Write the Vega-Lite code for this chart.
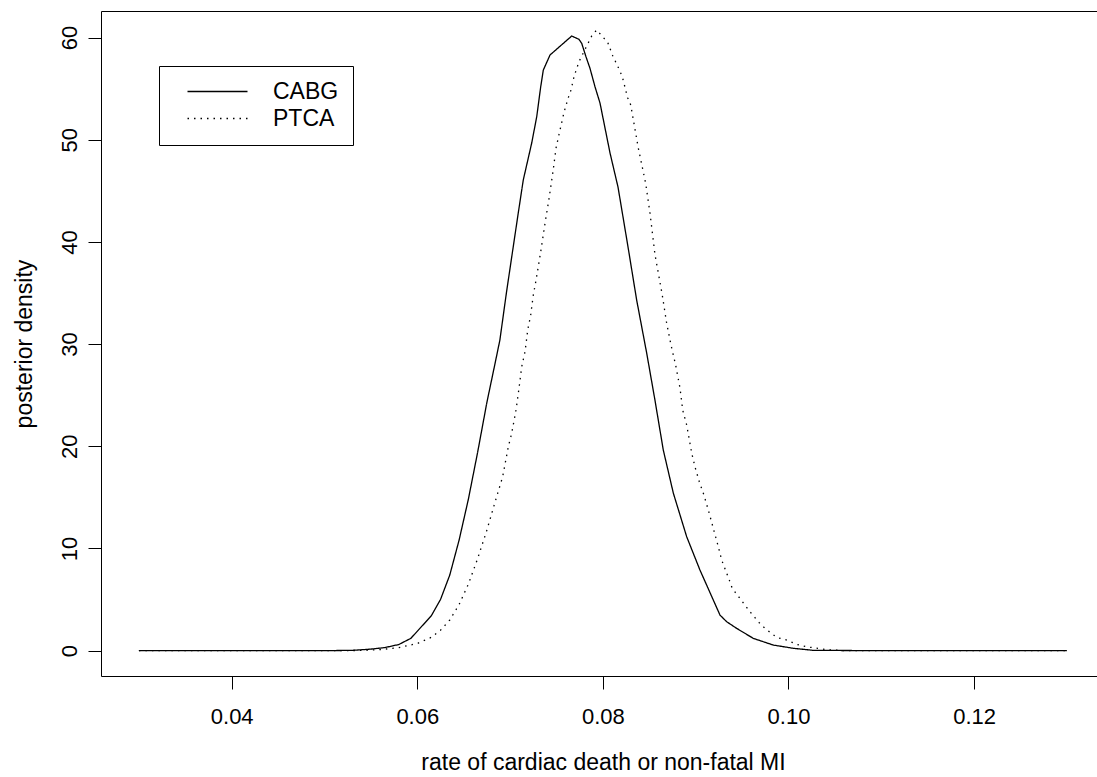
{
  "$schema": "https://vega.github.io/schema/vega-lite/v6.json",
  "autosize": "none",
  "padding": {"left": 101, "top": 11, "right": 0, "bottom": 101},
  "width": 996,
  "height": 665,
  "background": "white",
  "data": {"values": [
    {"x": 0.030, "d": 0, "s": "CABG"},
    {"x": 0.040, "d": 0, "s": "CABG"},
    {"x": 0.050, "d": 0, "s": "CABG"},
    {"x": 0.0530, "d": 0.03, "s": "CABG"},
    {"x": 0.0550, "d": 0.15, "s": "CABG"},
    {"x": 0.0565, "d": 0.3, "s": "CABG"},
    {"x": 0.0580, "d": 0.6, "s": "CABG"},
    {"x": 0.0593, "d": 1.2, "s": "CABG"},
    {"x": 0.0604, "d": 2.3, "s": "CABG"},
    {"x": 0.0615, "d": 3.4, "s": "CABG"},
    {"x": 0.0625, "d": 5.0, "s": "CABG"},
    {"x": 0.0635, "d": 7.4, "s": "CABG"},
    {"x": 0.0645, "d": 10.8, "s": "CABG"},
    {"x": 0.0655, "d": 14.8, "s": "CABG"},
    {"x": 0.0665, "d": 19.4, "s": "CABG"},
    {"x": 0.0675, "d": 24.3, "s": "CABG"},
    {"x": 0.0684, "d": 28.2, "s": "CABG"},
    {"x": 0.0689, "d": 30.4, "s": "CABG"},
    {"x": 0.0696, "d": 35.0, "s": "CABG"},
    {"x": 0.07034, "d": 39.53, "s": "CABG"},
    {"x": 0.07088, "d": 42.83, "s": "CABG"},
    {"x": 0.07142, "d": 46.06, "s": "CABG"},
    {"x": 0.07233, "d": 49.68, "s": "CABG"},
    {"x": 0.07287, "d": 52.25, "s": "CABG"},
    {"x": 0.07330, "d": 55.19, "s": "CABG"},
    {"x": 0.07358, "d": 56.82, "s": "CABG"},
    {"x": 0.07430, "d": 58.29, "s": "CABG"},
    {"x": 0.07573, "d": 59.43, "s": "CABG"},
    {"x": 0.07664, "d": 60.15, "s": "CABG"},
    {"x": 0.07742, "d": 59.83, "s": "CABG"},
    {"x": 0.07772, "d": 59.43, "s": "CABG"},
    {"x": 0.07818, "d": 58.12, "s": "CABG"},
    {"x": 0.07861, "d": 56.99, "s": "CABG"},
    {"x": 0.07915, "d": 55.19, "s": "CABG"},
    {"x": 0.07969, "d": 53.59, "s": "CABG"},
    {"x": 0.08077, "d": 48.70, "s": "CABG"},
    {"x": 0.08163, "d": 45.37, "s": "CABG"},
    {"x": 0.08271, "d": 39.50, "s": "CABG"},
    {"x": 0.08364, "d": 34.31, "s": "CABG"},
    {"x": 0.08472, "d": 29.12, "s": "CABG"},
    {"x": 0.08561, "d": 24.52, "s": "CABG"},
    {"x": 0.08651, "d": 19.63, "s": "CABG"},
    {"x": 0.08759, "d": 15.42, "s": "CABG"},
    {"x": 0.08903, "d": 11.15, "s": "CABG"},
    {"x": 0.09046, "d": 7.89, "s": "CABG"},
    {"x": 0.09190, "d": 4.95, "s": "CABG"},
    {"x": 0.09262, "d": 3.48, "s": "CABG"},
    {"x": 0.09334, "d": 2.83, "s": "CABG"},
    {"x": 0.09442, "d": 2.18, "s": "CABG"},
    {"x": 0.09621, "d": 1.20, "s": "CABG"},
    {"x": 0.09836, "d": 0.55, "s": "CABG"},
    {"x": 0.10052, "d": 0.23, "s": "CABG"},
    {"x": 0.10267, "d": 0.03, "s": "CABG"},
    {"x": 0.110, "d": 0, "s": "CABG"},
    {"x": 0.120, "d": 0, "s": "CABG"},
    {"x": 0.130, "d": 0, "s": "CABG"},
    {"x": 0.030, "d": 0, "s": "PTCA"},
    {"x": 0.050, "d": 0, "s": "PTCA"},
    {"x": 0.0540, "d": 0.02, "s": "PTCA"},
    {"x": 0.0560, "d": 0.1, "s": "PTCA"},
    {"x": 0.0580, "d": 0.3, "s": "PTCA"},
    {"x": 0.0600, "d": 0.7, "s": "PTCA"},
    {"x": 0.0615, "d": 1.3, "s": "PTCA"},
    {"x": 0.0625, "d": 2.0, "s": "PTCA"},
    {"x": 0.0635, "d": 3.0, "s": "PTCA"},
    {"x": 0.0645, "d": 4.5, "s": "PTCA"},
    {"x": 0.0655, "d": 6.5, "s": "PTCA"},
    {"x": 0.0665, "d": 9.0, "s": "PTCA"},
    {"x": 0.0675, "d": 11.8, "s": "PTCA"},
    {"x": 0.0684, "d": 14.6, "s": "PTCA"},
    {"x": 0.06920, "d": 17.02, "s": "PTCA"},
    {"x": 0.06981, "d": 19.96, "s": "PTCA"},
    {"x": 0.07017, "d": 21.27, "s": "PTCA"},
    {"x": 0.07064, "d": 23.55, "s": "PTCA"},
    {"x": 0.07096, "d": 25.67, "s": "PTCA"},
    {"x": 0.07125, "d": 27.78, "s": "PTCA"},
    {"x": 0.07161, "d": 29.25, "s": "PTCA"},
    {"x": 0.07190, "d": 31.38, "s": "PTCA"},
    {"x": 0.07222, "d": 32.84, "s": "PTCA"},
    {"x": 0.07250, "d": 34.80, "s": "PTCA"},
    {"x": 0.07280, "d": 36.27, "s": "PTCA"},
    {"x": 0.07333, "d": 39.21, "s": "PTCA"},
    {"x": 0.07379, "d": 41.98, "s": "PTCA"},
    {"x": 0.07419, "d": 44.20, "s": "PTCA"},
    {"x": 0.07466, "d": 47.13, "s": "PTCA"},
    {"x": 0.07495, "d": 49.18, "s": "PTCA"},
    {"x": 0.07530, "d": 50.63, "s": "PTCA"},
    {"x": 0.07581, "d": 52.68, "s": "PTCA"},
    {"x": 0.07627, "d": 54.11, "s": "PTCA"},
    {"x": 0.07656, "d": 54.86, "s": "PTCA"},
    {"x": 0.07689, "d": 56.17, "s": "PTCA"},
    {"x": 0.07742, "d": 57.63, "s": "PTCA"},
    {"x": 0.07879, "d": 60.15, "s": "PTCA"},
    {"x": 0.07933, "d": 60.74, "s": "PTCA"},
    {"x": 0.08052, "d": 59.53, "s": "PTCA"},
    {"x": 0.08106, "d": 58.22, "s": "PTCA"},
    {"x": 0.08174, "d": 56.92, "s": "PTCA"},
    {"x": 0.08209, "d": 56.17, "s": "PTCA"},
    {"x": 0.08267, "d": 54.11, "s": "PTCA"},
    {"x": 0.08300, "d": 53.40, "s": "PTCA"},
    {"x": 0.08381, "d": 49.22, "s": "PTCA"},
    {"x": 0.08429, "d": 47.13, "s": "PTCA"},
    {"x": 0.08461, "d": 45.73, "s": "PTCA"},
    {"x": 0.08508, "d": 42.80, "s": "PTCA"},
    {"x": 0.08561, "d": 38.78, "s": "PTCA"},
    {"x": 0.08640, "d": 34.80, "s": "PTCA"},
    {"x": 0.08687, "d": 32.06, "s": "PTCA"},
    {"x": 0.08734, "d": 29.91, "s": "PTCA"},
    {"x": 0.08784, "d": 27.95, "s": "PTCA"},
    {"x": 0.08831, "d": 25.70, "s": "PTCA"},
    {"x": 0.08860, "d": 23.55, "s": "PTCA"},
    {"x": 0.08903, "d": 22.08, "s": "PTCA"},
    {"x": 0.08957, "d": 19.34, "s": "PTCA"},
    {"x": 0.08992, "d": 18.00, "s": "PTCA"},
    {"x": 0.09039, "d": 16.53, "s": "PTCA"},
    {"x": 0.09089, "d": 15.23, "s": "PTCA"},
    {"x": 0.09136, "d": 13.76, "s": "PTCA"},
    {"x": 0.09200, "d": 11.64, "s": "PTCA"},
    {"x": 0.09244, "d": 10.17, "s": "PTCA"},
    {"x": 0.09280, "d": 8.87, "s": "PTCA"},
    {"x": 0.09362, "d": 6.91, "s": "PTCA"},
    {"x": 0.09394, "d": 6.10, "s": "PTCA"},
    {"x": 0.09585, "d": 3.81, "s": "PTCA"},
    {"x": 0.09685, "d": 2.73, "s": "PTCA"},
    {"x": 0.09747, "d": 2.18, "s": "PTCA"},
    {"x": 0.09873, "d": 1.30, "s": "PTCA"},
    {"x": 0.09981, "d": 1.04, "s": "PTCA"},
    {"x": 0.10088, "d": 0.62, "s": "PTCA"},
    {"x": 0.10196, "d": 0.38, "s": "PTCA"},
    {"x": 0.10412, "d": 0.1, "s": "PTCA"},
    {"x": 0.1060, "d": 0, "s": "PTCA"},
    {"x": 0.130, "d": 0, "s": "PTCA"}
  ]},
  "resolve": {"axis": {"x": "independent"}},
  "layer": [
    {
      "mark": {"type": "line", "color": "black", "strokeWidth": 1.3, "clip": true},
      "encoding": {
        "x": {"field": "x", "type": "quantitative",
          "scale": {"domain": [0.025916, 0.133246], "nice": false, "zero": false},
          "axis": {"orient": "bottom", "values": [0.04, 0.06, 0.08, 0.10, 0.12], "format": ".2f",
            "labelPadding": 17, "title": "rate of cardiac death or non-fatal MI",
            "titleX": 502, "titleY": 93, "titleAlign": "center", "titleBaseline": "alphabetic"}},
        "y": {"field": "d", "type": "quantitative",
          "scale": {"domain": [-2.48, 62.6], "nice": false, "zero": false},
          "axis": {"values": [0, 10, 20, 30, 40, 50, 60], "labelAngle": -90, "labelAlign": "center",
            "labelBaseline": "alphabetic", "labelPadding": 12,
            "title": "posterior density", "titleX": -70, "titleY": 332.5, "titleAngle": -90,
            "titleAlign": "center", "titleBaseline": "alphabetic"}},
        "strokeDash": {"field": "s", "type": "nominal",
          "scale": {"domain": ["CABG", "PTCA"], "range": [[1, 0], [1.5, 5]]},
          "legend": {"orient": "none", "legendX": 58, "legendY": 55, "title": null,
            "strokeColor": "black", "padding": 14,
            "symbolType": "M0.6,0H12.6", "symbolSize": 100,
            "symbolStrokeColor": "black", "symbolStrokeWidth": 1.3, "symbolFillColor": "transparent",
            "labelOffset": 77, "rowPadding": 3}},
        "detail": {"field": "s"}
      }
    },
    {
      "mark": {"type": "line", "opacity": 0},
      "encoding": {
        "x": {"field": "x", "type": "quantitative",
          "axis": {"orient": "top", "labels": false, "ticks": false, "title": null}},
        "y": {"field": "d", "type": "quantitative"},
        "detail": {"field": "s"}
      }
    }
  ],
  "config": {
    "view": {"stroke": null},
    "font": "Liberation Sans",
    "axis": {"domainColor": "black", "tickColor": "black", "labelColor": "black", "titleColor": "black",
      "labelFont": "Liberation Sans", "titleFont": "Liberation Sans", "labelFontSize": 22, "titleFontSize": 23,
      "titleFontWeight": "normal", "tickSize": 13, "grid": false, "domainWidth": 1, "tickWidth": 1},
    "legend": {"labelFont": "Liberation Sans", "labelFontSize": 23, "labelColor": "black"}
  }
}
